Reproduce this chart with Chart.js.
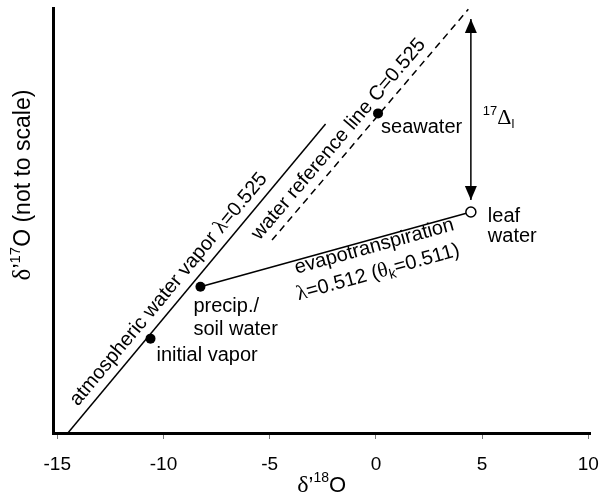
<!DOCTYPE html>
<html>
<head>
<meta charset="utf-8">
<script src="https://cdn.jsdelivr.net/npm/chart.js@4.4.1/dist/chart.umd.min.js"></script>
<style>
  html, body { margin: 0; padding: 0; background: #fff; }
</style>
</head>
<body>
<canvas id="chart" width="613" height="497"></canvas>
<script>
// ---- data ----
const xTicks = [-15, -10, -5, 0, 5, 10];

const vaporLineX = [-14.5, -2.37];
const vaporLineY = [0, 72.7];

const refLineX = [-4.89, 4.35];
const refLineY = [45.4, 99.7];

const evapLineX = [-8.26, 4.47];
const evapLineY = [34.4, 52.0];

const filledNames = ['initial vapor', 'precip./soil water', 'seawater'];
const filledX = [-10.61, -8.26, 0.10];
const filledY = [22.2, 34.4, 75.2];

const leafX = [4.47];
const leafY = [52.0];

const arrowX = [4.47, 4.47];
const arrowY = [54.8, 97.4];

const SANS = '"Liberation Sans", Arial, Helvetica, sans-serif';
const SERIF = '"Liberation Serif", "Times New Roman", serif';

const pts = (xs, ys) => xs.map((x, i) => ({ x: x, y: ys[i] }));

function seg(text, size, serif, dy) {
  return { text: text, font: size + 'px ' + (serif ? SERIF : SANS), dy: dy || 0 };
}

function drawRich(ctx, segs, x, y, align) {
  let w = 0;
  segs.forEach(s => { ctx.font = s.font; w += ctx.measureText(s.text).width; });
  let cx = align === 'center' ? x - w / 2 : x;
  ctx.textAlign = 'left';
  ctx.textBaseline = 'alphabetic';
  segs.forEach(s => {
    ctx.font = s.font;
    ctx.fillText(s.text, cx, y + s.dy);
    cx += ctx.measureText(s.text).width;
  });
}

// place rich text along a line given in pixels: s = distance along, n = offset to the left normal
function drawAlong(ctx, p0, p1, s, n, segs, align) {
  const dx = p1.x - p0.x, dy = p1.y - p0.y, L = Math.hypot(dx, dy);
  const ux = dx / L, uy = dy / L;
  const px = p0.x + ux * s + uy * n;
  const py = p0.y + uy * s - ux * n;
  ctx.save();
  ctx.translate(px, py);
  ctx.rotate(Math.atan2(dy, dx));
  drawRich(ctx, segs, 0, 0, align);
  ctx.restore();
}

function arrowHead(ctx, x, y, dir) {
  ctx.beginPath();
  ctx.moveTo(x, y);
  ctx.lineTo(x - 6, y + dir * 14);
  ctx.lineTo(x + 6, y + dir * 14);
  ctx.closePath();
  ctx.fill();
}

const annotations = {
  id: 'annotations',
  afterDatasetsDraw(chart) {
    const ctx = chart.ctx;
    const xs = chart.scales.x, ys = chart.scales.y;
    const P = (x, y) => ({ x: xs.getPixelForValue(x), y: ys.getPixelForValue(y) });
    ctx.save();
    ctx.fillStyle = '#000';

    // double arrow
    const aTop = P(arrowX[1], arrowY[1]);
    const aBot = P(arrowX[0], arrowY[0]);
    arrowHead(ctx, aTop.x, aTop.y, 1);
    arrowHead(ctx, aBot.x, aBot.y, -1);
    drawRich(ctx, [seg('17', 13, false, -9), seg('\u0394', 22, true), seg('l', 13, false, 4)],
      aTop.x + 12, (aTop.y + aBot.y) / 2 + 14, 'left');

    // point labels
    const iv = P(filledX[0], filledY[0]);
    drawRich(ctx, [seg('initial vapor', 20)], iv.x + 6, iv.y + 22, 'left');
    const pr = P(filledX[1], filledY[1]);
    drawRich(ctx, [seg('precip./', 20)], pr.x - 7, pr.y + 25, 'left');
    drawRich(ctx, [seg('soil water', 20)], pr.x - 7, pr.y + 48, 'left');
    const sw = P(filledX[2], filledY[2]);
    drawRich(ctx, [seg('seawater', 20)], sw.x + 3, sw.y + 20, 'left');
    const lf = P(leafX[0], leafY[0]);
    drawRich(ctx, [seg('leaf', 20)], lf.x + 17, lf.y + 10, 'left');
    drawRich(ctx, [seg('water', 20)], lf.x + 17, lf.y + 30, 'left');

    // labels along lines
    const v0 = P(vaporLineX[0], vaporLineY[0]), v1 = P(vaporLineX[1], vaporLineY[1]);
    drawAlong(ctx, v0, v1, 175, 9,
      [seg('atmospheric water vapor ', 20), seg('\u03bb', 21, true), seg('=0.525', 20)], 'center');
    const r0 = P(refLineX[0], refLineY[0]), r1 = P(refLineX[1], refLineY[1]);
    drawAlong(ctx, r0, r1, 120, 9, [seg('water reference line C=0.525', 20)], 'center');
    const e0 = P(evapLineX[0], evapLineY[0]), e1 = P(evapLineX[1], evapLineY[1]);
    drawAlong(ctx, e0, e1, 96, -13, [seg('evapotranspiration', 20)], 'left');
    drawAlong(ctx, e0, e1, 91, -39,
      [seg('\u03bb', 21, true), seg('=0.512 (', 20), seg('\u03b8', 21, true), seg('k', 14, false, 4), seg('=0.511)', 20)], 'left');

    // axis titles
    const ca = chart.chartArea;
    drawRich(ctx, [seg('\u03b4', 24, true), seg('\u2019', 22), seg('18', 14, false, -10), seg('O', 22)],
      (ca.left + ca.right) / 2, 492, 'center');
    ctx.save();
    ctx.translate(30, 185);
    ctx.rotate(-Math.PI / 2);
    drawRich(ctx, [seg('\u03b4', 25, true), seg('\u2019', 23), seg('17', 15, false, -10), seg('O (not to scale)', 23)],
      0, 0, 'center');
    ctx.restore();

    ctx.restore();
  }
};

const lineStyle = { showLine: true, borderColor: '#000', borderWidth: 1.5, pointRadius: 0, fill: false };

new Chart(document.getElementById('chart').getContext('2d'), {
  type: 'scatter',
  data: {
    datasets: [
      { label: 'points', data: pts(filledX, filledY), pointRadius: 5, pointBackgroundColor: '#000', pointBorderColor: '#000', pointBorderWidth: 0 },
      { label: 'leaf water', data: pts(leafX, leafY), pointRadius: 5, pointBackgroundColor: '#fff', pointBorderColor: '#000', pointBorderWidth: 1.5 },
      Object.assign({ label: 'atmospheric water vapor', data: pts(vaporLineX, vaporLineY) }, lineStyle),
      Object.assign({ label: 'water reference line', data: pts(refLineX, refLineY), borderDash: [7, 5] }, lineStyle),
      Object.assign({ label: 'evapotranspiration', data: pts(evapLineX, evapLineY) }, lineStyle),
      Object.assign({ label: '17Dl', data: pts(arrowX, arrowY) }, lineStyle)
    ]
  },
  options: {
    responsive: false,
    animation: false,
    layout: { padding: { top: 8, right: 20, left: 0, bottom: 0 } },
    plugins: { legend: { display: false }, tooltip: { enabled: false } },
    scales: {
      x: {
        type: 'linear',
        min: -15.2,
        max: 10.1,
        afterBuildTicks: s => { s.ticks = xTicks.map(v => ({ value: v })); },
        afterFit: s => { s.height = 64; },
        grid: { drawOnChartArea: false, drawTicks: true, tickLength: 6, color: '#777', lineWidth: 1 },
        border: { display: true, color: '#000', width: 3 },
        ticks: { color: '#000', font: { family: SANS, size: 19 }, padding: 14, maxRotation: 0, autoSkip: false }
      },
      y: {
        type: 'linear',
        min: 0,
        max: 100,
        afterFit: s => { s.width = 53; },
        ticks: { display: false },
        grid: { display: false },
        border: { display: true, color: '#000', width: 3 }
      }
    }
  },
  plugins: [annotations]
});
</script>
</body>
</html>
